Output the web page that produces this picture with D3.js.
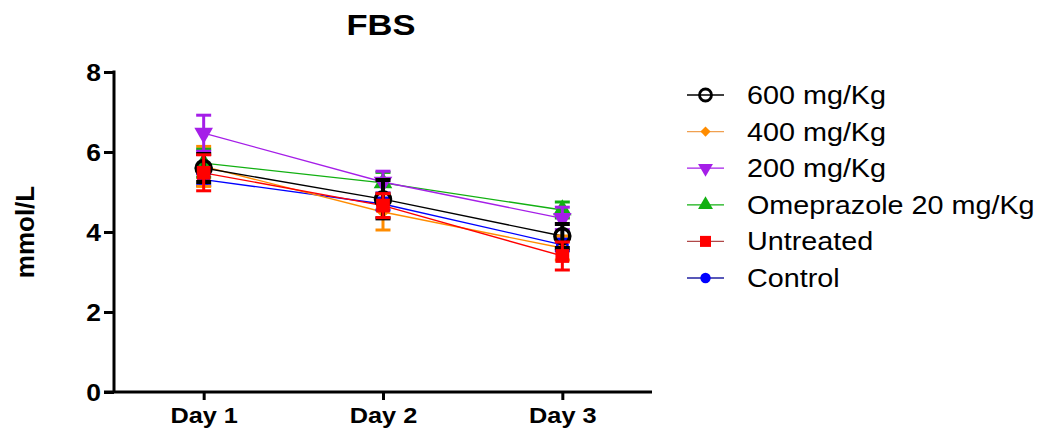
<!DOCTYPE html>
<html>
<head>
<meta charset="utf-8">
<script src="https://cdn.jsdelivr.net/npm/d3@7"></script>
<style>
  body { margin: 0; background: #fff; }
  text { font-family: "Liberation Sans", Arial, sans-serif; }
</style>
</head>
<body>
<script>
const width = 1037;
const height = 432;
const SX = 1.15; // the source picture is stretched sideways

const days = ["Day 1", "Day 2", "Day 3"];
const yTicks = [0, 2, 4, 6, 8];
const seriesNames = ["600 mg/Kg", "400 mg/Kg", "200 mg/Kg", "Omeprazole 20 mg/Kg", "Untreated", "Control"];

const mean600 = [5.6, 4.82, 3.9];
const sem600 = [0.35, 0.48, 0.3];
const mean400 = [5.64, 4.5, 3.6];
const sem400 = [0.5, 0.45, 0.3];
const mean200 = [6.47, 5.25, 4.34];
const sem200 = [0.45, 0.27, 0.28];
const meanOme = [5.72, 5.23, 4.55];
const semOme = [0.35, 0.26, 0.2];
const meanUnt = [5.48, 4.66, 3.4];
const semUnt = [0.45, 0.3, 0.35];
const meanCtl = [5.31, 4.7, 3.68];
const semCtl = [0.15, 0.15, 0.15];

const series = [
  { name: seriesNames[5], mean: meanCtl, sem: semCtl, color: "#0000ff", legendLine: "#2020a0", shape: "circle" },
  { name: seriesNames[1], mean: mean400, sem: sem400, color: "#ff8c00", legendLine: "#f0a050", shape: "diamond" },
  { name: seriesNames[3], mean: meanOme, sem: semOme, color: "#12b012", legendLine: "#12b012", shape: "triangle" },
  { name: seriesNames[2], mean: mean200, sem: sem200, color: "#a51ee8", legendLine: "#a51ee8", shape: "triangleDown" },
  { name: seriesNames[0], mean: mean600, sem: sem600, color: "#000000", legendLine: "#000000", shape: "openCircle" },
  { name: seriesNames[4], mean: meanUnt, sem: semUnt, color: "#ff0000", legendLine: "#b04848", shape: "square" }
];

const x = d3.scalePoint().domain(days).range([114, 652]).padding(0.5);
const y = d3.scaleLinear().domain([0, 8]).range([392, 72]);

const svg = d3.select("body").append("svg")
  .attr("width", width)
  .attr("height", height);

function drawMarker(g, shape, color, scale) {
  const k = scale || 1;
  if (shape === "openCircle") {
    g.append("circle").attr("r", 7.5 * k).attr("fill", "none")
      .attr("stroke", color).attr("stroke-width", 3.5 * k);
  } else if (shape === "circle") {
    g.append("circle").attr("r", 6.5 * k).attr("fill", color);
  } else {
    const sym = {
      diamond: d3.symbolSquare,
      square: d3.symbolSquare,
      triangle: d3.symbolTriangle,
      triangleDown: d3.symbolTriangle
    }[shape];
    const size = { diamond: 80, square: 190, triangle: 150, triangleDown: 150 }[shape] * k * k;
    const rot = { diamond: 45, square: 0, triangle: 0, triangleDown: 180 }[shape];
    g.append("path").attr("d", d3.symbol().type(sym).size(size)())
      .attr("transform", `rotate(${rot})`)
      .attr("fill", color);
  }
}

// title
svg.append("text")
  .attr("transform", `translate(381, 35) scale(${SX},1)`)
  .attr("text-anchor", "middle")
  .attr("font-size", 30)
  .attr("font-weight", "bold")
  .text("FBS");

// y axis label
svg.append("text")
  .attr("transform", "translate(34, 232) rotate(-90)")
  .attr("text-anchor", "middle")
  .attr("font-size", 26)
  .attr("font-weight", "bold")
  .text("mmol/L");

// axes
const yAxis = svg.append("g")
  .attr("transform", "translate(114,0)")
  .call(d3.axisLeft(y).tickValues(yTicks).tickSize(10).tickPadding(4).tickSizeOuter(0));
yAxis.select(".domain").remove();
yAxis.selectAll(".tick line").attr("stroke-width", 3);
yAxis.selectAll(".tick text")
  .attr("font-size", 23)
  .attr("font-weight", "bold")
  .attr("font-family", "Liberation Sans, Arial, sans-serif")
  .attr("fill", "#000")
  .attr("x", -13 / SX)
  .attr("dy", "0.36em")
  .attr("transform", `scale(${SX},1)`);

svg.append("line")
  .attr("x1", 114).attr("x2", 114)
  .attr("y1", y(8) - 1.5).attr("y2", y(0))
  .attr("stroke", "#000").attr("stroke-width", 3);

const xAxis = svg.append("g")
  .attr("transform", `translate(0,${y(0)})`)
  .call(d3.axisBottom(x).tickSize(8).tickPadding(7).tickSizeOuter(0));
xAxis.select(".domain").remove();
xAxis.selectAll(".tick line").attr("stroke-width", 3);
xAxis.selectAll(".tick text")
  .attr("font-size", 22)
  .attr("font-weight", "bold")
  .attr("font-family", "Liberation Sans, Arial, sans-serif")
  .attr("fill", "#000")
  .attr("transform", `scale(${SX},1)`);

svg.append("line")
  .attr("x1", 104).attr("x2", 652)
  .attr("y1", y(0)).attr("y2", y(0))
  .attr("stroke", "#000").attr("stroke-width", 3);

// connecting lines
const line = d3.line().x((d, i) => x(days[i])).y(d => y(d));
series.forEach(s => {
  svg.append("path")
    .datum(s.mean)
    .attr("d", line)
    .attr("fill", "none")
    .attr("stroke", s.color)
    .attr("stroke-width", 1.3);
});

// error bars and markers
series.forEach(s => {
  const g = svg.append("g");
  const bw = s.shape === "openCircle" ? 4 : 3;
  s.mean.forEach((m, i) => {
    const cx = x(days[i]);
    const top = y(m + s.sem[i]);
    const bot = y(m - s.sem[i]);
    g.append("line").attr("x1", cx).attr("x2", cx).attr("y1", top).attr("y2", bot)
      .attr("stroke", s.color).attr("stroke-width", bw);
    [top, bot].forEach(yy => {
      g.append("line").attr("x1", cx - 7.5).attr("x2", cx + 7.5).attr("y1", yy).attr("y2", yy)
        .attr("stroke", s.color).attr("stroke-width", bw);
    });
    const mg = g.append("g").attr("transform", `translate(${cx},${y(m)})`);
    drawMarker(mg, s.shape, s.color, 1);
  });
});

// legend
const legendOrder = [4, 1, 3, 2, 5, 0];
legendOrder.forEach((idx, row) => {
  const s = series[idx];
  const cy = 95 + row * 36.6;
  const g = svg.append("g");
  g.append("line").attr("x1", 687).attr("x2", 724).attr("y1", cy).attr("y2", cy)
    .attr("stroke", s.legendLine).attr("stroke-width", 1.3);
  const mg = g.append("g").attr("transform", `translate(705.5,${cy})`);
  drawMarker(mg, s.shape, s.color, 0.8);
  g.append("text")
    .attr("transform", `translate(747,${cy + 9}) scale(${SX},1)`)
    .attr("font-size", 25)
    .text(s.name);
});
</script>
</body>
</html>
